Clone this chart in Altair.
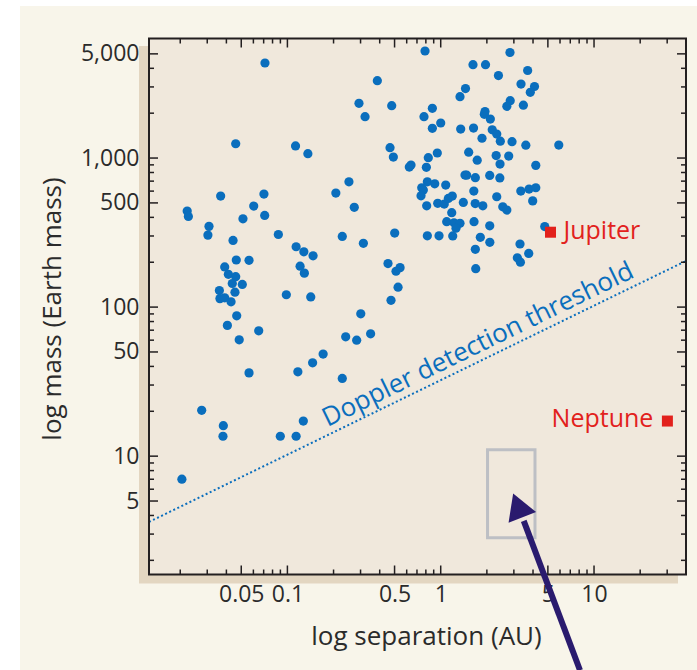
import altair as alt
import pandas as pd

# ---------------- data ----------------
# exoplanets: orbital separation (AU) and mass (Earth masses)
sep_au = [
    0.046, 0.113, 0.136, 0.252, 0.207, 0.0367, 0.0703, 0.0222, 0.0226, 0.0603,
    0.0711, 0.0513, 0.0308, 0.0303, 0.0873, 0.228, 0.0442, 0.114, 0.128, 0.147,
    0.0464, 0.0562, 0.039, 0.121, 0.129, 0.0412, 0.046, 0.0437, 0.0508, 0.036,
    0.0455, 0.0363, 0.039, 0.0429, 0.0984, 0.142, 0.0467, 0.0406, 0.065, 0.0485,
    0.240, 0.171, 0.146, 0.117, 0.0562, 0.228, 0.0276, 0.0382, 0.038, 0.127,
    0.0899, 0.114, 0.0205, 0.0714,
    0.313, 0.501, 0.818, 0.975, 1.198, 0.453, 0.543, 0.511, 0.527, 0.474,
    0.301, 0.283, 0.349, 0.790, 0.386, 0.293, 0.479, 0.321, 0.882, 0.778,
    1.00, 0.882, 1.336, 1.451, 1.35, 0.467, 0.491, 0.640, 0.624, 0.830,
    0.950, 0.806, 0.818, 0.752, 0.770, 0.744, 0.914, 1.078, 1.440, 0.273,
    0.810, 0.956, 1.055, 1.121, 1.190, 1.404, 1.180, 1.094, 1.221, 1.336,
    1.258,
    2.83, 1.624, 1.960, 2.38, 3.69, 3.34, 4.09, 3.84, 2.84, 2.70,
    3.46, 1.945, 1.925, 2.107, 1.637, 2.168, 2.32, 2.448, 1.859, 2.918,
    3.59, 5.89, 1.522, 1.730, 2.30, 2.437, 2.777, 4.17, 1.477, 1.682,
    2.088, 2.43, 1.644, 3.33, 3.77, 4.17, 3.98, 2.32, 1.679, 1.882,
    2.54, 2.70, 1.649, 2.088, 1.813, 2.091, 1.682, 3.29, 3.75, 3.16,
    3.31, 1.692, 4.77,
]
mass_earth = [
    1247, 1205, 1069, 693, 582, 556, 573, 441, 406, 476,
    412, 391, 348, 304, 307, 298, 280, 254, 235, 221,
    207, 206, 186, 188, 169, 166, 160, 144, 142, 129,
    126, 114, 115.5, 108.5, 121, 117, 87.4, 75.4, 69.3, 60.3,
    63.2, 48.4, 42.3, 36.8, 36.2, 33.2, 20.3, 16.0, 13.6, 17.2,
    13.6, 13.6, 7.01, 4341,
    268, 314, 301, 301, 300, 196, 184, 174, 136, 111,
    90.2, 60.0, 66.2, 5226, 3302, 2328, 2244, 1893, 2156, 1893,
    1718, 1582, 2579, 2927, 1565, 1173, 1016, 897, 870, 1005,
    1081, 866, 693, 632, 610, 558, 672, 659, 769, 467,
    478, 497, 491, 536, 556, 504, 430, 374, 368, 365,
    338,
    5105, 4228, 4228, 3578, 3866, 3138, 3020, 2760, 2424, 2223,
    2261, 2051, 1965, 1827, 1590, 1546, 1449, 1297, 1358, 1287,
    1219, 1222, 1094, 967, 1039, 911, 1031, 893, 767, 738,
    765, 736, 600, 600, 619, 632, 516, 550, 495, 478,
    471, 448, 374, 351, 294, 272, 244, 265, 229, 214,
    200, 181, 347,
]

planet_names = ["Jupiter", "Neptune"]
planet_sep = [5.2, 30.1]
planet_mass = [318, 17.2]

threshold_sep = [0.01251, 39.8]
threshold_mass = [3.62, 204]
threshold_text = ["Doppler detection threshold"]
threshold_text_sep = [1.75]
threshold_text_mass = [56]

box_sep = [2.02, 4.12]
box_mass = [2.84, 11.06]

arrow_sep = [8.1, 3.48]
arrow_mass = [0.366, 3.68]
arrow_head_sep = [3.18]
arrow_head_mass = [4.67]

x_label_values = [0.05, 0.1, 0.5, 1, 5, 10]
y_label_values = [5, 10, 50, 100, 500, 1000, 5000]
x_major_ticks = [0.05, 0.1, 0.5, 1, 5, 10]
x_minor_ticks = [0.02, 0.03, 0.04, 0.06, 0.07, 0.08, 0.09, 0.2, 0.3, 0.4,
                 0.6, 0.7, 0.8, 0.9, 2, 3, 4, 6, 7, 8, 9, 20, 30]
y_major_ticks = [5, 10, 50, 100, 500, 1000, 5000]
y_minor_ticks = [2, 3, 4, 6, 7, 8, 9, 20, 30, 40, 60, 70, 80, 90,
                 200, 300, 400, 600, 700, 800, 900, 2000, 3000, 4000]

# ---------------- styling ----------------
W, H = 537, 536
PAD_L, PAD_T, PAD_R, PAD_B = 149, 38.5, 11, 95.5
FONT = "Open Sans"
BLUE = "#0a6ebd"
RED = "#e2211c"
DARK = "#231f20"
TXT = "#2b2b2b"
NAVY = "#2a1b6e"
xs = alt.Scale(type="log", domain=[0.01251, 39.8], nice=False)
ys = alt.Scale(type="log", domain=[1.607, 6339], nice=False)

x_axis = alt.Axis(
    values=x_label_values, format="~g", ticks=False, tickSize=0, domain=False, grid=False,
    labelFont=FONT, labelFontSize=23, labelColor=TXT, labelPadding=9,
    labelOverlap=False, labelFlush=False, labelBound=False,
    title="log separation (AU)", titleFont=FONT, titleFontSize=26,
    titleFontWeight="normal", titleColor=TXT, titleX=277, titleY=62,
    titleAlign="center", titleBaseline="middle")
y_axis = alt.Axis(
    values=y_label_values, format=",", ticks=False, tickSize=0, domain=False, grid=False,
    labelFont=FONT, labelFontSize=23, labelColor=TXT, labelPadding=10,
    labelOverlap=False, labelFlush=False, labelBound=False,
    title="log mass (Earth mass)", titleFont=FONT, titleFontSize=26,
    titleFontWeight="normal", titleColor=TXT, titleX=-97, titleY=270,
    titleAngle=270, titleAlign="center", titleBaseline="middle")


def X(f):
    return alt.X(f, scale=xs, axis=x_axis)


def Y(f):
    return alt.Y(f, scale=ys, axis=y_axis)


one = pd.DataFrame({"k": [0]})

# white page margins (top and left) around the cream panel
white_top = alt.Chart(one).mark_rect(color="#ffffff").encode(
    x=alt.value(-PAD_L), x2=alt.value(W + PAD_R), y=alt.value(-PAD_T), y2=alt.value(-32.5))
white_left = alt.Chart(one).mark_rect(color="#ffffff").encode(
    x=alt.value(-PAD_L), x2=alt.value(-129), y=alt.value(-PAD_T), y2=alt.value(H + PAD_B))
shadow = alt.Chart(one).mark_rect(color="#e3d6c1").encode(
    x=alt.value(-10), x2=alt.value(W - 8), y=alt.value(7.5), y2=alt.value(H + 9))
plotbg = alt.Chart(one).mark_rect(color="#f0e8dc").encode(
    x=alt.value(0), x2=alt.value(W), y=alt.value(0), y2=alt.value(H))

pts_df = pd.DataFrame({"sep": sep_au, "mass": mass_earth})
pts = alt.Chart(pts_df).mark_circle(size=85, color=BLUE, opacity=1).encode(
    x=X("sep:Q"), y=Y("mass:Q"))

thr_df = pd.DataFrame({"sep": threshold_sep, "mass": threshold_mass})
thr_line = alt.Chart(thr_df).mark_line(
    color=BLUE, strokeWidth=2, strokeDash=[2, 2.5]).encode(x=X("sep:Q"), y=Y("mass:Q"))

thr_txt_df = pd.DataFrame({"sep": threshold_text_sep, "mass": threshold_text_mass,
                           "t": threshold_text})
thr_txt = alt.Chart(thr_txt_df).mark_text(
    color=BLUE, font=FONT, fontSize=26, angle=334, align="center", baseline="middle").encode(
    x=X("sep:Q"), y=Y("mass:Q"), text="t:N")

pl_df = pd.DataFrame({"name": planet_names, "sep": planet_sep, "mass": planet_mass})
pl_sq = alt.Chart(pl_df).mark_point(shape="square", filled=True, size=121, color=RED, opacity=1).encode(
    x=X("sep:Q"), y=Y("mass:Q"))
jup_txt = alt.Chart(pl_df).transform_filter(alt.datum.name == "Jupiter").mark_text(
    color=RED, font=FONT, fontSize=25, align="left", baseline="middle", dx=13, dy=-1).encode(
    x=X("sep:Q"), y=Y("mass:Q"), text="name:N")
nep_txt = alt.Chart(pl_df).transform_filter(alt.datum.name == "Neptune").mark_text(
    color=RED, font=FONT, fontSize=25, align="right", baseline="middle", dx=-14, dy=-2).encode(
    x=X("sep:Q"), y=Y("mass:Q"), text="name:N")

box_df = pd.DataFrame({"s1": [box_sep[0]], "s2": [box_sep[1]], "m1": [box_mass[0]], "m2": [box_mass[1]]})
box = alt.Chart(box_df).mark_rect(fillOpacity=0, stroke="#bdbfc4", strokeWidth=3).encode(
    x=X("s1:Q"), x2="s2:Q", y=Y("m1:Q"), y2="m2:Q")

arr_df = pd.DataFrame({"s1": [arrow_sep[0]], "s2": [arrow_sep[1]],
                       "m1": [arrow_mass[0]], "m2": [arrow_mass[1]]})
arrow = alt.Chart(arr_df).mark_rule(color=NAVY, strokeWidth=6).encode(
    x=X("s1:Q"), x2="s2:Q", y=Y("m1:Q"), y2="m2:Q")
head_df = pd.DataFrame({"sep": arrow_head_sep, "mass": arrow_head_mass})
head = alt.Chart(head_df).mark_point(shape="triangle-up", filled=True, size=870, angle=339,
                                     color=NAVY, opacity=1).encode(
    x=X("sep:Q"), y=Y("mass:Q"))

frame = alt.Chart(one).mark_rect(fillOpacity=0, stroke=DARK, strokeWidth=2).encode(
    x=alt.value(0), x2=alt.value(W), y=alt.value(0), y2=alt.value(H))


def xticks(vals, length):
    d = pd.DataFrame({"v": vals})
    b = alt.Chart(d).mark_rule(color=DARK, strokeWidth=1.5).encode(
        x=X("v:Q"), y=alt.value(H), y2=alt.value(H - length))
    t = alt.Chart(d).mark_rule(color=DARK, strokeWidth=1.5).encode(
        x=X("v:Q"), y=alt.value(0), y2=alt.value(length))
    return [b, t]


def yticks(vals, length):
    d = pd.DataFrame({"v": vals})
    l = alt.Chart(d).mark_rule(color=DARK, strokeWidth=1.5).encode(
        y=Y("v:Q"), x=alt.value(0), x2=alt.value(length))
    r = alt.Chart(d).mark_rule(color=DARK, strokeWidth=1.5).encode(
        y=Y("v:Q"), x=alt.value(W), x2=alt.value(W - length))
    return [l, r]


ticks = xticks(x_major_ticks, 9) + xticks(x_minor_ticks, 5) + yticks(y_major_ticks, 9) + yticks(y_minor_ticks, 5)

chart = alt.layer(
    white_top, white_left, shadow, plotbg, pts, thr_line, thr_txt, pl_sq, jup_txt, nep_txt, box,
    frame, *ticks, arrow, head
).properties(
    width=W, height=H,
    padding={"left": PAD_L, "top": PAD_T, "right": PAD_R, "bottom": PAD_B},
    autosize=alt.AutoSizeParams(type="none"),
    background="#f8f5ea",
).configure_view(stroke="transparent")

chart.save("out.html", embed_options={"renderer": "svg", "actions": False})
